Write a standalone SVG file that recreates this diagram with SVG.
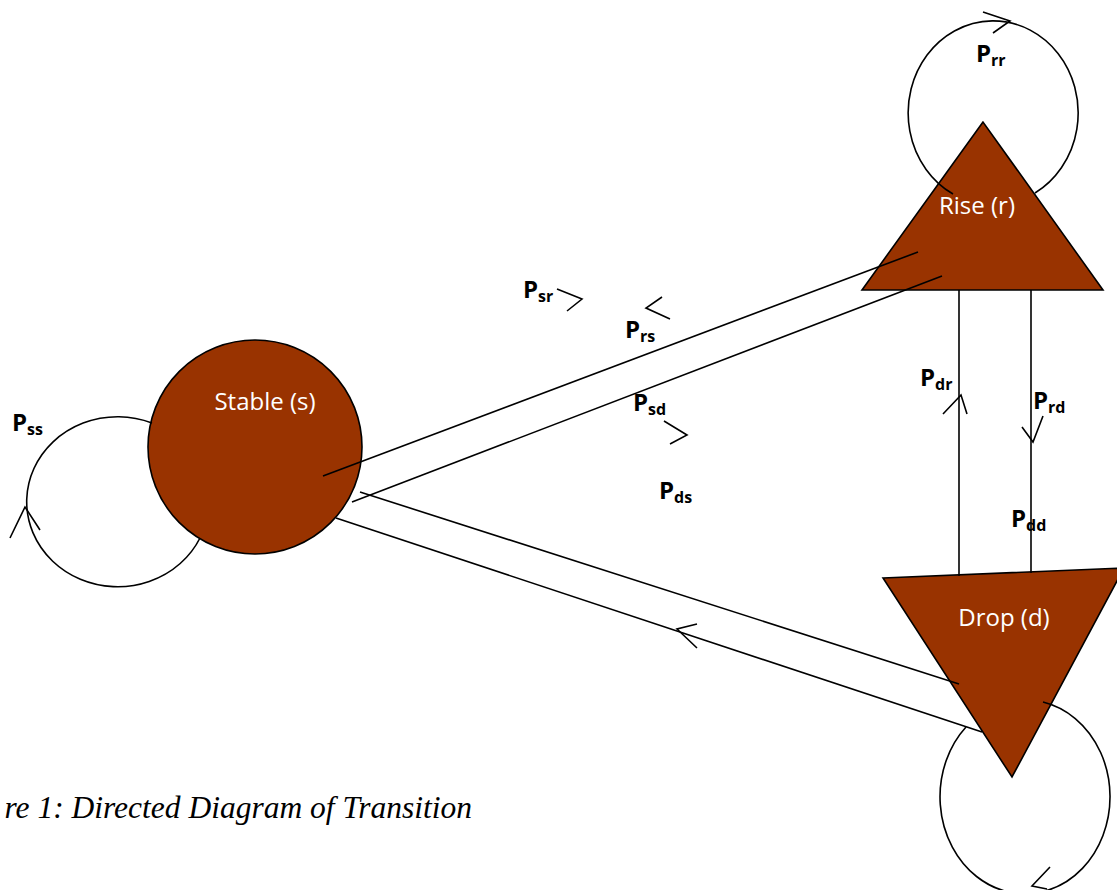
<svg xmlns="http://www.w3.org/2000/svg" width="1117" height="890" viewBox="0 0 1117 890">
<style>
.node{fill:#993300;stroke:#000;stroke-width:1.6}
.ln{fill:none;stroke:#000;stroke-width:1.6}
.nl{font-family:"Open Sans",Lato,sans-serif;font-size:24px;fill:#fff}
.pl{font-family:"Open Sans",Lato,sans-serif;font-size:24px;font-weight:bold;fill:#000}
.sb{font-size:16px}
.cap{font-family:"Liberation Serif",serif;font-style:italic;font-size:31.5px;fill:#000}
</style>
<rect width="1117" height="890" fill="#fff"/>
<g id="node-stable">
<circle class="node" cx="255" cy="447" r="107"/>
<text class="nl" x="265" y="410" text-anchor="middle">Stable (s)</text>
</g>
<g id="node-rise">
<polygon class="node" points="983,122 862,290 1103,290"/>
<text class="nl" x="977" y="214" text-anchor="middle">Rise (r)</text>
</g>
<g id="node-drop">
<polygon class="node" points="883,578 1124,568 1012,777"/>
<text class="nl" x="1004" y="626" text-anchor="middle">Drop (d)</text>
</g>
<g id="connectors">
<path class="ln" d="M152,423 A91,85 0 1 0 200,538"/>
<polyline class="ln" points="10,538 25,507 40,530"/>
<path class="ln" d="M953,194 A85,92 0 1 1 1035,193"/>
<polyline class="ln" points="983,12 1010,21 993,33"/>
<path class="ln" d="M966,727 A85,97 0 1 0 1043,702"/>
<polyline class="ln" points="1050,867 1032,886 1047,889"/>
<line class="ln" x1="323" y1="476" x2="918" y2="252"/>
<line class="ln" x1="352" y1="502" x2="942" y2="276"/>
<line class="ln" x1="360" y1="492" x2="959" y2="684"/>
<line class="ln" x1="336" y1="518" x2="982" y2="732"/>
<line class="ln" x1="959" y1="290" x2="959" y2="576"/>
<line class="ln" x1="1031" y1="290" x2="1031" y2="573"/>
<polyline class="ln" points="557,289 582,299 567,311"/>
<polyline class="ln" points="662,297 646,308 670,319"/>
<polyline class="ln" points="664,421 687,435 670,444"/>
<polyline class="ln" points="697,624 677,629 697,648"/>
<polyline class="ln" points="943,414 961,395 967,414"/>
<polyline class="ln" points="1022,427 1033,442 1043,416"/>
</g>
<g id="labels">
<text class="pl" x="12" y="431">P<tspan class="sb" dy="4">ss</tspan></text>
<text class="pl" x="523" y="298">P<tspan class="sb" dy="4">sr</tspan></text>
<text class="pl" x="625" y="338">P<tspan class="sb" dy="4">rs</tspan></text>
<text class="pl" x="633" y="411">P<tspan class="sb" dy="4">sd</tspan></text>
<text class="pl" x="659" y="499">P<tspan class="sb" dy="4">ds</tspan></text>
<text class="pl" x="976" y="62">P<tspan class="sb" dy="4">rr</tspan></text>
<text class="pl" x="920" y="386">P<tspan class="sb" dy="4">dr</tspan></text>
<text class="pl" x="1033" y="409">P<tspan class="sb" dy="4">rd</tspan></text>
<text class="pl" x="1011" y="527">P<tspan class="sb" dy="4">dd</tspan></text>
</g>
<text class="cap" x="472" y="818" text-anchor="end">re 1: Directed Diagram of Transition</text>
</svg>
